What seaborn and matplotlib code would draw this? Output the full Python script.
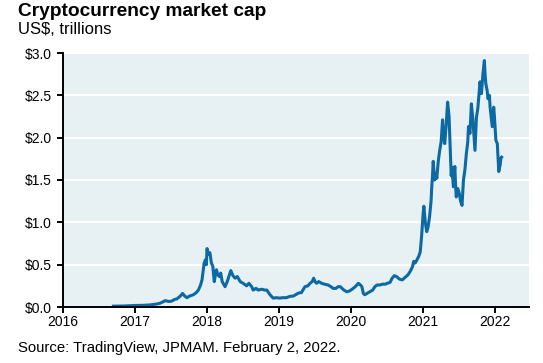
import numpy as np
import pandas as pd
import matplotlib
matplotlib.use("Agg")
import matplotlib.pyplot as plt
import seaborn as sns

# decimal year, market cap in US$ trillions
dates = [2016.70, 2016.85, 2017.00, 2017.12, 2017.21, 2017.30, 2017.35, 2017.42, 2017.47, 2017.51,
         2017.55, 2017.58, 2017.63, 2017.66, 2017.69, 2017.72, 2017.76, 2017.81, 2017.85, 2017.88,
         2017.91, 2017.93, 2017.96, 2017.98, 2017.99, 2018.00, 2018.02, 2018.04, 2018.06, 2018.08,
         2018.10, 2018.12, 2018.13, 2018.15, 2018.17, 2018.19, 2018.21, 2018.23, 2018.25, 2018.28,
         2018.31, 2018.33, 2018.36, 2018.39, 2018.42, 2018.46, 2018.50, 2018.55, 2018.58, 2018.62,
         2018.64, 2018.68, 2018.71, 2018.76, 2018.80, 2018.83, 2018.87, 2018.90, 2018.92, 2018.96,
         2019.01, 2019.05, 2019.10, 2019.15, 2019.20, 2019.27, 2019.31, 2019.36, 2019.40, 2019.43,
         2019.46, 2019.48, 2019.50, 2019.52, 2019.55, 2019.59, 2019.63, 2019.68, 2019.72, 2019.75,
         2019.79, 2019.82, 2019.85, 2019.90, 2019.94, 2019.98, 2020.03, 2020.07, 2020.10, 2020.13,
         2020.15, 2020.17, 2020.19, 2020.22, 2020.26, 2020.30, 2020.33, 2020.36, 2020.40, 2020.44,
         2020.48, 2020.50, 2020.54, 2020.57, 2020.60, 2020.63, 2020.67, 2020.71, 2020.75, 2020.79,
         2020.82, 2020.85, 2020.87, 2020.89, 2020.91, 2020.94, 2020.96, 2020.98, 2021.00, 2021.01,
         2021.03, 2021.05, 2021.07, 2021.09, 2021.11, 2021.12, 2021.13, 2021.14, 2021.16, 2021.18,
         2021.19, 2021.21, 2021.23, 2021.25, 2021.27, 2021.28, 2021.30, 2021.32, 2021.34, 2021.36,
         2021.38, 2021.39, 2021.40, 2021.42, 2021.43, 2021.44, 2021.45, 2021.46, 2021.48, 2021.50,
         2021.52, 2021.54, 2021.56, 2021.58, 2021.60, 2021.62, 2021.63, 2021.65, 2021.67, 2021.69,
         2021.70, 2021.72, 2021.73, 2021.74, 2021.76, 2021.78, 2021.79, 2021.81, 2021.83, 2021.85,
         2021.86, 2021.87, 2021.89, 2021.90, 2021.92, 2021.93, 2021.95, 2021.96, 2021.98, 2021.99,
         2022.01, 2022.03, 2022.05, 2022.07, 2022.08, 2022.09]
cap = [0.010, 0.012, 0.018, 0.020, 0.025, 0.035, 0.045, 0.075, 0.065, 0.070,
       0.090, 0.095, 0.13, 0.16, 0.13, 0.11, 0.13, 0.145, 0.17, 0.20,
       0.26, 0.32, 0.52, 0.56, 0.50, 0.69, 0.62, 0.64, 0.52, 0.48,
       0.30, 0.40, 0.44, 0.38, 0.36, 0.40, 0.30, 0.27, 0.24, 0.30,
       0.38, 0.43, 0.37, 0.34, 0.36, 0.30, 0.28, 0.25, 0.28, 0.24,
       0.20, 0.22, 0.20, 0.21, 0.20, 0.20, 0.15, 0.12, 0.105, 0.11,
       0.105, 0.11, 0.11, 0.125, 0.13, 0.165, 0.17, 0.24, 0.25, 0.28,
       0.30, 0.34, 0.30, 0.28, 0.30, 0.28, 0.27, 0.26, 0.24, 0.22,
       0.22, 0.24, 0.24, 0.20, 0.18, 0.19, 0.22, 0.25, 0.28, 0.26,
       0.24, 0.16, 0.145, 0.16, 0.18, 0.20, 0.24, 0.26, 0.26, 0.27,
       0.27, 0.28, 0.29, 0.34, 0.37, 0.36, 0.33, 0.32, 0.35, 0.38,
       0.42, 0.47, 0.54, 0.52, 0.55, 0.60, 0.65, 0.85, 1.10, 1.19,
       1.00, 0.89, 0.95, 1.07, 1.25, 1.42, 1.55, 1.72, 1.50, 1.58,
       1.52, 1.72, 1.85, 1.95, 2.21, 2.05, 1.93, 2.15, 2.42, 2.25,
       1.80, 1.55, 1.65, 1.42, 1.55, 1.66, 1.45, 1.30, 1.40, 1.35,
       1.25, 1.20, 1.50, 1.62, 1.81, 1.95, 2.13, 2.05, 2.40, 2.22,
       2.10, 1.85, 2.05, 2.24, 2.35, 2.55, 2.66, 2.52, 2.75, 2.91,
       2.75, 2.64, 2.55, 2.46, 2.50, 2.36, 2.20, 2.13, 2.36, 2.25,
       1.97, 1.93, 1.60, 1.68, 1.76, 1.77]
years = [2016, 2017, 2018, 2019, 2020, 2021, 2022]
yticks = [0.0, 0.5, 1.0, 1.5, 2.0, 2.5, 3.0]

df = pd.DataFrame({"date": dates, "cap": cap})

Font = ["Liberation Sans", "DejaVu Sans"]
plt.rcParams["font.family"] = Font

fig = plt.figure(figsize=(5.43, 3.63), dpi=100)
ax = fig.add_axes([63 / 543, 1 - 307 / 363, (529 - 63) / 543, (307 - 53) / 363])
ax.set_facecolor("#e7f0f3")
ax.set_axisbelow(True)
ax.grid(axis="y", color="white", linewidth=1.6)

sns.lineplot(data=df, x="date", y="cap", ax=ax, color="#0b69a3", linewidth=2.2)

ax.set_xlim(2016, 2022.47)
ax.set_ylim(0, 3.0)
ax.set_xticks(years)
ax.set_xticklabels([str(y) for y in years])
ax.set_yticks(yticks)
ax.set_yticklabels(["$%.1f" % v for v in yticks])
ax.set_xlabel("")
ax.set_ylabel("")
for s in ["top", "right"]:
    ax.spines[s].set_visible(False)
for s in ["left", "bottom"]:
    ax.spines[s].set_color("black")
    ax.spines[s].set_linewidth(1.4)
ax.tick_params(axis="both", labelsize=10, colors="black", width=1.4, length=4, pad=2)
ax.tick_params(axis="y", pad=4)

fig.text(18 / 543, 1 - 3 / 363, "Cryptocurrency market cap", fontsize=13.8, fontweight="bold", va="top", ha="left")
fig.text(18 / 543, 1 - 22 / 363, "US$, trillions", fontsize=12, va="top", ha="left")
fig.text(18 / 543, 1 - 341 / 363, "Source: TradingView, JPMAM. February 2, 2022.", fontsize=10.7, va="top", ha="left")

fig.savefig("out.png", dpi=100)
